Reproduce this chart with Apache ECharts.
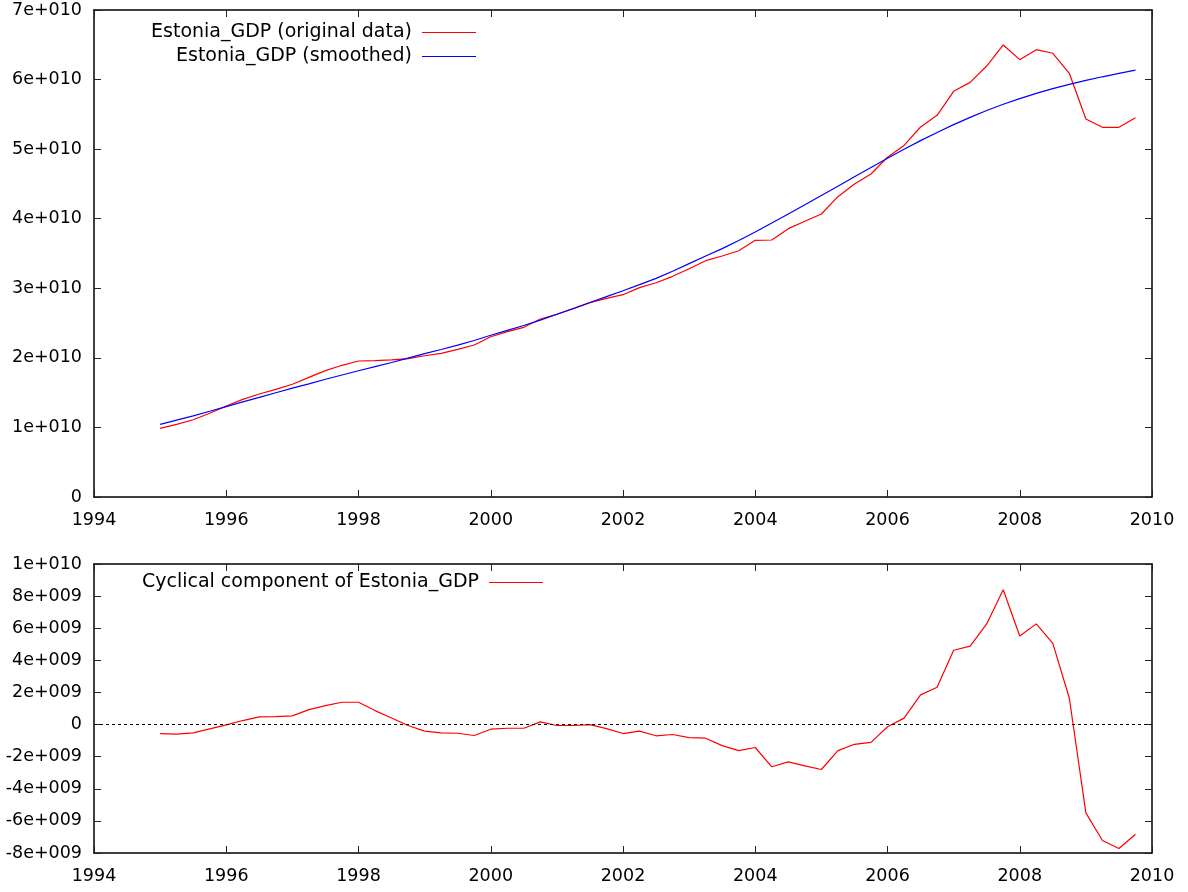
<!DOCTYPE html>
<html>
<head>
<meta charset="utf-8">
<script src="https://cdn.jsdelivr.net/npm/echarts@6/dist/echarts.min.js"></script>
<style>
html,body{margin:0;padding:0;background:#fff;}
#c{width:1188px;height:892px;}
</style>
</head>
<body>
<div id="c"></div>
<script>
const quarters = [1995,1995.25,1995.5,1995.75,1996,1996.25,1996.5,1996.75,1997,1997.25,1997.5,1997.75,1998,1998.25,1998.5,1998.75,1999,1999.25,1999.5,1999.75,2000,2000.25,2000.5,2000.75,2001,2001.25,2001.5,2001.75,2002,2002.25,2002.5,2002.75,2003,2003.25,2003.5,2003.75,2004,2004.25,2004.5,2004.75,2005,2005.25,2005.5,2005.75,2006,2006.25,2006.5,2006.75,2007,2007.25,2007.5,2007.75,2008,2008.25,2008.5,2008.75,2009,2009.25,2009.5,2009.75];

const originalGDP = [0.987e10,1.045e10,1.111e10,1.203e10,1.308e10,1.404e10,1.481e10,1.548e10,1.620e10,1.720e10,1.816e10,1.893e10,1.955e10,1.960e10,1.970e10,1.990e10,2.030e10,2.065e10,2.123e10,2.185e10,2.304e10,2.376e10,2.439e10,2.559e10,2.626e10,2.707e10,2.793e10,2.856e10,2.908e10,3.009e10,3.080e10,3.172e10,3.280e10,3.397e10,3.464e10,3.540e10,3.690e10,3.694e10,3.857e10,3.963e10,4.068e10,4.317e10,4.499e10,4.643e10,4.883e10,5.053e10,5.318e10,5.486e10,5.831e10,5.960e10,6.195e10,6.497e10,6.286e10,6.430e10,6.378e10,6.090e10,5.433e10,5.314e10,5.314e10,5.452e10];

const smoothedGDP = [1.043e10,1.105e10,1.165e10,1.232e10,1.300e10,1.368e10,1.433e10,1.499e10,1.564e10,1.627e10,1.692e10,1.754e10,1.815e10,1.874e10,1.933e10,1.996e10,2.060e10,2.120e10,2.182e10,2.250e10,2.325e10,2.395e10,2.465e10,2.543e10,2.626e10,2.710e10,2.795e10,2.880e10,2.964e10,3.052e10,3.143e10,3.245e10,3.355e10,3.465e10,3.570e10,3.688e10,3.810e10,3.938e10,4.068e10,4.200e10,4.333e10,4.467e10,4.602e10,4.737e10,4.870e10,4.998e10,5.122e10,5.240e10,5.352e10,5.457e10,5.555e10,5.645e10,5.727e10,5.802e10,5.870e10,5.932e10,5.988e10,6.040e10,6.090e10,6.135e10];

const cyclical = [-0.56e9,-0.60e9,-0.52e9,-0.27e9,-0.02e9,0.25e9,0.48e9,0.50e9,0.54e9,0.93e9,1.18e9,1.39e9,1.39e9,0.87e9,0.41e9,-0.06e9,-0.41e9,-0.52e9,-0.54e9,-0.68e9,-0.29e9,-0.23e9,-0.23e9,0.17e9,-0.06e9,-0.06e9,0.00e9,-0.25e9,-0.56e9,-0.41e9,-0.70e9,-0.62e9,-0.81e9,-0.85e9,-1.31e9,-1.62e9,-1.43e9,-2.63e9,-2.32e9,-2.57e9,-2.80e9,-1.62e9,-1.23e9,-1.11e9,-0.14e9,0.40e9,1.85e9,2.32e9,4.63e9,4.88e9,6.27e9,8.40e9,5.52e9,6.27e9,5.06e9,1.64e9,-5.50e9,-7.22e9,-7.72e9,-6.83e9];

const xTickLabels = ['1994','1996','1998','2000','2002','2004','2006','2008','2010'];
const topYTickLabels = ['0','1e+010','2e+010','3e+010','4e+010','5e+010','6e+010','7e+010'];
const bottomYTickLabels = ['-8e+009','-6e+009','-4e+009','-2e+009','0','2e+009','4e+009','6e+009','8e+009','1e+010'];

const FONT = 'DejaVu Sans';
const FS = 17.5;
const LFS = 19;

function zipXY(ys){ return quarters.map((x,i)=>[x,ys[i]]); }

const xMin=1994, xMax=2010, xInt=2;
const tMin=0, tMax=7e10, tInt=1e10;
const bMin=-8e9, bMax=1e10, bInt=2e9;

function lblFrom(arr,min,int){ return v => { const i=Math.round((v-min)/int); return arr[i]!==undefined?arr[i]:''; }; }

const tickStyle = {show:true, inside:true, length:7, lineStyle:{color:'#222', width:1}};
const axisLineStyle = {show:true, onZero:false, lineStyle:{color:'#000', width:1.5}};
const labelStyle = {color:'#000', fontFamily:FONT, fontSize:FS};

function xAxes(gi){
  return [
    {type:'value', gridIndex:gi, min:xMin, max:xMax, interval:xInt, position:'bottom',
     axisLine:axisLineStyle, axisTick:tickStyle, splitLine:{show:false},
     axisLabel:Object.assign({margin:14, formatter:lblFrom(xTickLabels,xMin,xInt)}, labelStyle)},
    {type:'value', gridIndex:gi, min:xMin, max:xMax, interval:xInt, position:'top',
     axisLine:axisLineStyle, axisTick:tickStyle, splitLine:{show:false}, axisLabel:{show:false}}
  ];
}
function yAxes(gi,min,max,int,labels){
  return [
    {type:'value', gridIndex:gi, min:min, max:max, interval:int, position:'left',
     axisLine:axisLineStyle, axisTick:tickStyle, splitLine:{show:false},
     axisLabel:Object.assign({margin:12, formatter:lblFrom(labels,min,int)}, labelStyle)},
    {type:'value', gridIndex:gi, min:min, max:max, interval:int, position:'right',
     axisLine:axisLineStyle, axisTick:tickStyle, splitLine:{show:false}, axisLabel:{show:false}}
  ];
}

const legendBase = {orient:'vertical', align:'right', padding:0, itemWidth:54, itemHeight:1, icon:'rect',
  textStyle:{color:'#000', fontFamily:FONT, fontSize:LFS, padding:[0,5,0,0]}};

const chart = echarts.init(document.getElementById('c'), null, {renderer:'canvas'});
chart.setOption({
  animation:false,
  backgroundColor:'#fff',
  grid:[
    {left:94, top:10, width:1058, height:487},
    {left:94, top:564, width:1058, height:289}
  ],
  xAxis:[].concat(xAxes(0), xAxes(1)),
  yAxis:[].concat(yAxes(0,tMin,tMax,tInt,topYTickLabels), yAxes(1,bMin,bMax,bInt,bottomYTickLabels)),
  legend:[
    Object.assign({right:712, top:23, data:['Estonia_GDP (original data)']}, legendBase),
    Object.assign({right:712, top:47, data:['Estonia_GDP (smoothed)']}, legendBase),
    Object.assign({right:645, top:573, data:['Cyclical component of Estonia_GDP']}, legendBase)
  ],
  series:[
    {name:'Estonia_GDP (original data)', type:'line', xAxisIndex:0, yAxisIndex:0, data:zipXY(originalGDP),
     symbol:'none', lineStyle:{color:'#ff0000', width:1.2}, itemStyle:{color:'#ff0000'}, z:3},
    {name:'Estonia_GDP (smoothed)', type:'line', xAxisIndex:0, yAxisIndex:0, data:zipXY(smoothedGDP),
     symbol:'none', lineStyle:{color:'#0000ff', width:1.2}, itemStyle:{color:'#0000ff'}, z:4},
    {name:'Cyclical component of Estonia_GDP', type:'line', xAxisIndex:2, yAxisIndex:2, data:zipXY(cyclical),
     symbol:'none', lineStyle:{color:'#ff0000', width:1.2}, itemStyle:{color:'#ff0000'}, z:3,
     markLine:{silent:true, symbol:['none','none'], label:{show:false},
       lineStyle:{color:'#000', type:[3,3], width:1}, data:[{yAxis:0}]}}
  ]
});
</script>
</body>
</html>
